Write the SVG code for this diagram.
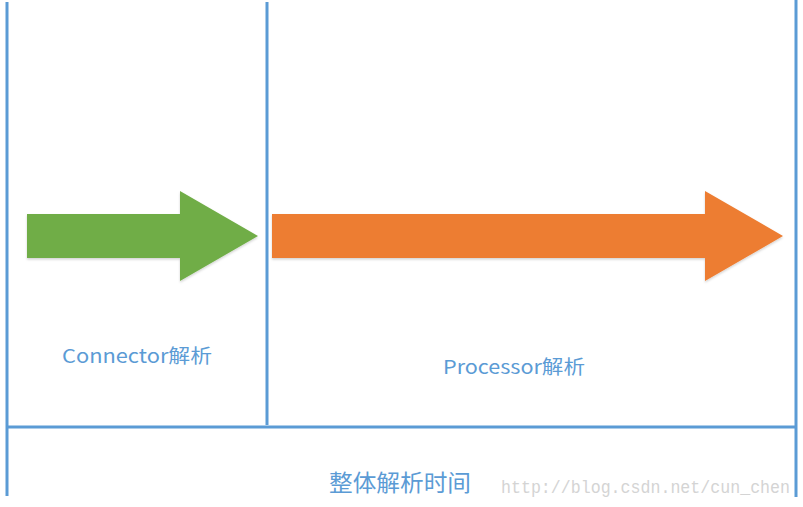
<svg xmlns="http://www.w3.org/2000/svg" width="803" height="507" viewBox="0 0 803 507">
<style>
.ln{stroke:#5B9BD5;stroke-width:3;fill:none}
.lbl{fill:#5B9BD5;font-family:"Noto Sans CJK SC","Noto Sans",sans-serif}
.wm{fill:#D4D4D4;font-family:"Liberation Mono",monospace}
</style>
<defs>
<filter id="sh" x="-5%" y="-5%" width="110%" height="115%">
<feDropShadow dx="0" dy="1.5" stdDeviation="1" flood-color="#000" flood-opacity="0.18"/>
</filter>
</defs>
<rect width="803" height="507" fill="#fff"/>
<g id="connectors">
<line class="ln" x1="7" y1="2" x2="7" y2="496"/>
<line class="ln" x1="267" y1="2" x2="267" y2="425"/>
<line class="ln" x1="796" y1="0" x2="796" y2="497"/>
<line class="ln" x1="6" y1="427" x2="797" y2="427"/>
</g>
<g id="connector-arrow">
<polygon points="27,214 180,214 180,191 258,236 180,281 180,258 27,258" fill="#70AD47" filter="url(#sh)"/>
</g>
<g id="processor-arrow">
<polygon points="272,214 705,214 705,191 783,236 705,281 705,258 272,258" fill="#ED7D31" filter="url(#sh)"/>
</g>
<g id="connector-label">
<text class="lbl" x="137" y="363" font-size="19" text-anchor="middle" textLength="150" lengthAdjust="spacingAndGlyphs">Connector解析</text>
</g>
<g id="processor-label">
<text class="lbl" x="514" y="374" font-size="19" text-anchor="middle" textLength="142" lengthAdjust="spacingAndGlyphs">Processor解析</text>
</g>
<g id="total-label">
<text class="lbl" x="400" y="491" font-size="23" text-anchor="middle" textLength="142" lengthAdjust="spacingAndGlyphs">整体解析时间</text>
</g>
<text class="wm" x="501" y="493" font-size="18" textLength="289" lengthAdjust="spacingAndGlyphs">http://blog.csdn.net/cun_chen</text>
</svg>
